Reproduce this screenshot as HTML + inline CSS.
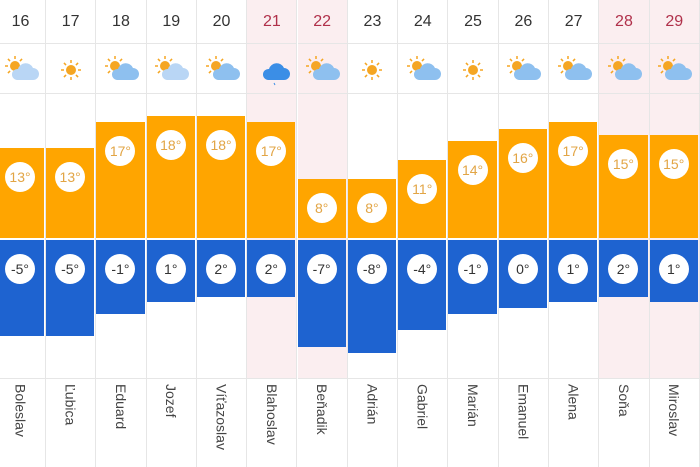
<!DOCTYPE html>
<html><head><meta charset="utf-8"><style>
body{margin:0;width:700px;height:467px;overflow:hidden;background:#fff;font-family:"Liberation Sans",sans-serif;position:relative}
.a{position:absolute}
.col{position:absolute;top:0;height:467px;border-right:1px solid #e6e6e6;box-sizing:border-box}
.we{background:#fbeef0}
.d{position:absolute;top:0;height:44px;width:100%;text-align:center;line-height:44px;font-size:16px;color:#333;border-bottom:1px solid #e6e6e6;box-sizing:border-box}
.we .d{color:#b0304a}
.ic{position:absolute;top:44px;height:50px;width:100%;border-bottom:1px solid #e6e6e6;box-sizing:border-box}
.o{position:absolute;left:0;right:1px;background:#ffa500}
.b{position:absolute;left:0;right:1px;background:#1e63d0;top:240px}
.c{position:absolute;left:50%;margin-left:-15px;width:30px;height:30px;border-radius:50%;background:#fff;text-align:center;line-height:30px;font-size:14px}
.o .c{color:#e2a545;top:14px}
.b .c{color:#333;top:14px}
.line{position:absolute;top:378px;left:0;width:100%;border-top:1px solid #e6e6e6}
.n{position:absolute;top:384px;left:50%;margin-left:-8px;writing-mode:vertical-rl;font-size:14px;color:#444;line-height:16px}
.nb{position:absolute;top:378px;height:89px;left:0;right:0;background:#fff}
</style></head><body>
<div id="r"></div>
<script>
var days=[16,17,18,19,20,21,22,23,24,25,26,27,28,29];
var hi=[13,13,17,18,18,17,8,8,11,14,16,17,15,15];
var lo=[-5,-5,-1,1,2,2,-7,-8,-4,-1,0,1,2,1];
var nm=["Boleslav","Ľubica","Eduard","Jozef","Víťazoslav","Blahoslav","Beňadik","Adrián","Gabriel","Marián","Emanuel","Alena","Soňa","Miroslav"];
var ic=["pc","s","pc","pc","pc","r","pc","s","pc","s","pc","pc","pc","pc"];
var we=[5,6,12,13];
var sun='<circle cx="14" cy="14" r="5" fill="#f5a623"/><g stroke="#f5a623" stroke-width="1.5">'+[0,45,90,135,180,225,270,315].map(function(a){var r=a*Math.PI/180;return '<line x1="'+(14+7*Math.cos(r))+'" y1="'+(14+7*Math.sin(r))+'" x2="'+(14+10*Math.cos(r))+'" y2="'+(14+10*Math.sin(r))+'"/>'}).join('')+'</g>';
var cloud=function(c){return '<path d="M16 28h16a6 6 0 0 0 0-12a8 8 0 0 0-15 1a5.5 5.5 0 0 0-1 11z" fill="'+c+'"/>'};
var h='';
for(var i=0;i<14;i++){
 var L=i==0?-4:46+50.3*(i-1);var W=i==0?50:50.3;
 var tp=238-(8.6+6.3*hi[i]);var bt=238+70-5.6*lo[i];
 var svg;
 if(ic[i]=='s')svg='<svg width="40" height="34" viewBox="0 0 40 34"><g transform="translate(6,4)">'+sun+'</g></svg>';
 else if(ic[i]=='r')svg='<svg width="40" height="34" viewBox="0 0 40 34">'+cloud('#3b8ee6')+'<line x1="22" y1="31" x2="23" y2="33" stroke="#3b8ee6"/></svg>';
 else svg='<svg width="40" height="34" viewBox="0 0 40 34">'+sun+cloud(i==0||i==3||i==9?'#b9d6f5':'#8ec0ef')+'</svg>';
 h+='<div class="col'+(we.indexOf(i)>=0?' we':'')+'" style="left:'+L+'px;width:'+W+'px">'+
 '<div class="d">'+days[i]+'</div><div class="ic"><div class="a" style="left:50%;margin-left:-20px;top:8px">'+svg+'</div></div>'+
 '<div class="o" style="top:'+tp+'px;height:'+(238-tp)+'px"><div class="c">'+hi[i]+'°</div></div>'+
 '<div class="b" style="height:'+(bt-240)+'px"><div class="c">'+lo[i]+'°</div></div>'+
 '<div class="nb"></div><div class="line"></div><div class="n">'+nm[i]+'</div></div>';
}
document.getElementById('r').innerHTML=h;
</script>
</body></html>
